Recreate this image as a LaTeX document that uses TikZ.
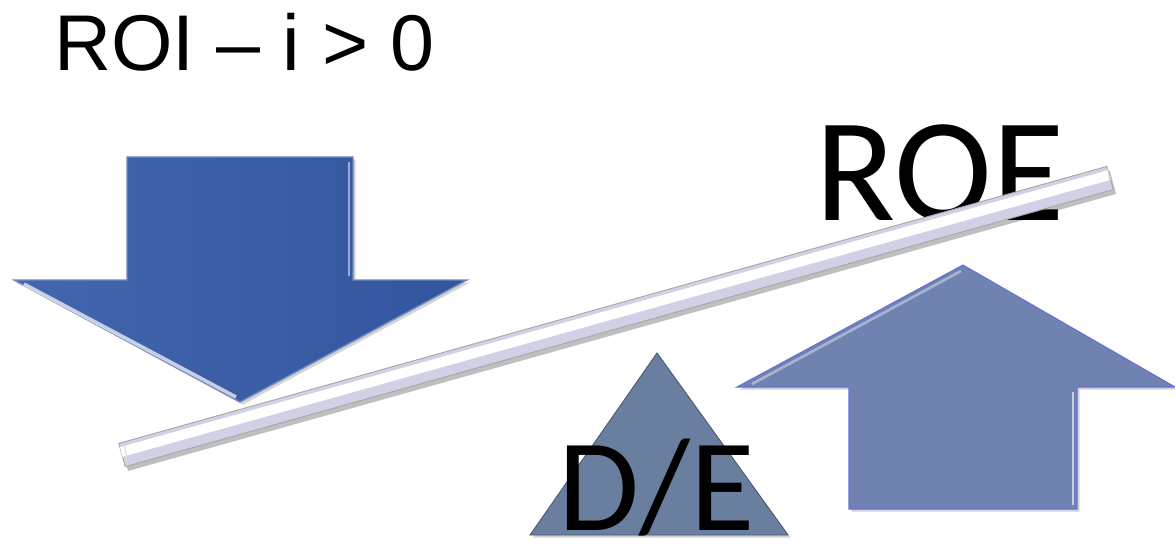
\documentclass[tikz,border=0pt]{standalone}
\usepackage{fontspec}
\setmainfont{Liberation Sans}
\newfontfamily\calibri{Carlito}
\usetikzlibrary{shadows}
\definecolor{downblue}{RGB}{52,89,167}
\definecolor{upblue}{RGB}{111,130,176}
\definecolor{triblue}{RGB}{106,127,160}
\definecolor{barlav}{RGB}{208,208,230}
\tikzset{
  bevel/.style={drop shadow={opacity=0.35,shadow xshift=1.5pt,shadow yshift=-1.5pt}},
  bigtext/.style={inner sep=0pt,anchor=base}
}
\begin{document}
\begin{tikzpicture}[x=0.02cm,y=-0.02cm]
        \useasboundingbox (0,0) rectangle (1175,547);
        %% down arrow
        \draw[bevel,draw=downblue!70!white,line width=0.8pt,left color=downblue!92!white,right color=downblue!95!black]
            (127,157) -- (353,157) -- (353,280) -- (467,280) -- (240,402) -- (14,280) -- (127,280) -- cycle;
        \draw[white,opacity=0.7,line width=2pt] (24,284) -- (236,397);
        \draw[white,opacity=0.5,line width=1.5pt] (349,162) -- (349,276);
        %% up arrow
        \draw[bevel,draw=upblue!60!blue!80!white,line width=0.6pt,fill=upblue]
            (963,265) -- (1175,387) -- (1077,387) -- (1077,509) -- (849,509) -- (849,387) -- (737,387) -- cycle;
        \draw[white,opacity=0.4,line width=1.5pt] (752,384) -- (961,271);
        \draw[white,opacity=0.6,line width=1.5pt] (1073,392) -- (1073,505);
        %% triangle
        \draw[bevel,draw=triblue!70!black,line width=0.5pt,fill=triblue]
            (657,353) -- (788,535) -- (530,535) -- cycle;
        %% labels
        \node[anchor=base west,inner sep=0pt] (roi) at (54,71) {\fontsize{45}{50}\selectfont ROI -- i > 0};
        \node[bigtext] (roe) at (940,220) {\calibri\fontsize{84}{90}\selectfont ROE};
        \node[bigtext] (de) at (657,530) {\calibri\fontsize{75}{80}\selectfont D/E};
        %% lever bar
        \coordinate (bar-l) at (122,455);
        \coordinate (bar-r) at (1110,178);
        \fill[black,opacity=0.25] (122,448) -- (1110,171) -- (1116,194) -- (128,471) -- cycle;
        \draw[fill=barlav,draw=gray!70,line width=0.5pt] (118.8,443.4) -- (1106.8,166.4) -- (1113.2,189.6) -- (125.2,466.6) -- cycle;
        \draw[white,line width=0.2cm] ([shift={(-0.8,-3)}]bar-l) -- ([shift={(-0.8,-3)}]bar-r);
        \draw[gray!30,line width=0.5pt] (124.5,445.5) -- (127.5,464) (1107.5,169) -- (1110.5,187.5);
\end{tikzpicture}
\end{document}
